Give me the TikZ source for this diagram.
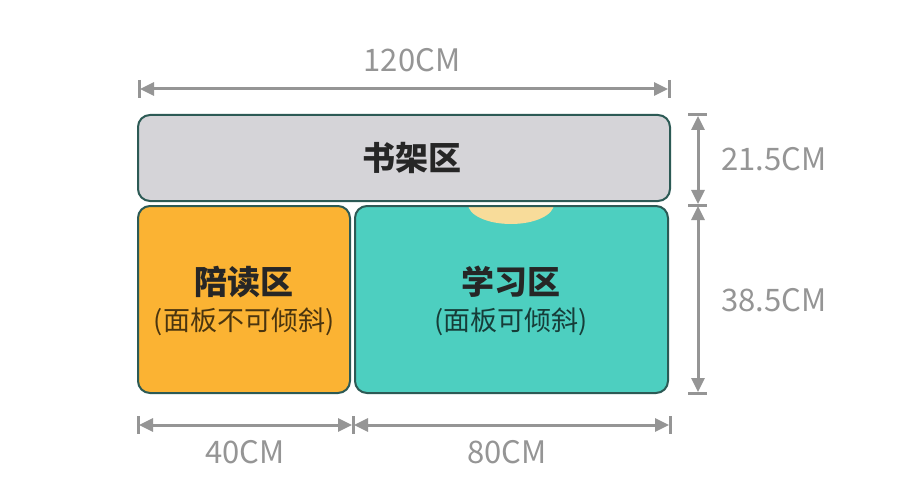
\documentclass[tikz,border=0pt]{standalone}
\usepackage{fontspec}
\setmainfont{Noto Sans CJK SC}
\usetikzlibrary{arrows.meta}
\definecolor{shelf}{HTML}{D5D4D8}
\definecolor{orangez}{HTML}{FBB333}
\definecolor{tealz}{HTML}{4DCFC0}
\definecolor{yel}{HTML}{F8DC9A}
\definecolor{edge}{HTML}{2C5A55}
\definecolor{dimc}{HTML}{959595}
\tikzset{
  zone/.style={draw=edge, line width=2pt, rounded corners=12pt},
  dimline/.style={draw=dimc, line width=3pt, {Triangle[length=14pt,width=13pt]}-{Triangle[length=14pt,width=13pt]}, shorten <=1pt, shorten >=1pt},
  tickl/.style={draw=dimc, line width=3pt},
  dimtxt/.style={text=dimc, font=\fontsize{31}{34}\selectfont, inner sep=0pt},
  title/.style={text=black!85, font=\bfseries\fontsize{33}{36}\selectfont, inner sep=0pt},
  sub/.style={text=black, opacity=0.7, font=\fontsize{27}{30}\selectfont, inner sep=0pt},
}
\begin{document}
\begin{tikzpicture}[x=1pt,y=-1pt]
\useasboundingbox[fill=white] (0,0) rectangle (900,500);
% zones
\path[zone, fill=shelf] (138,115) rectangle (670,201);
\path[zone, fill=orangez] (138,206) rectangle (350,393);
\begin{scope}
  \clip[rounded corners=12pt] (355,206) rectangle (668,393);
  \fill[tealz] (355,206) rectangle (668,393);
  \fill[yel] (511,204) ellipse [x radius=43pt, y radius=20pt];
\end{scope}
\path[zone] (355,206) rectangle (668,393);
% labels
\node[title] (shelf) at (412,158) {书架区};
\node[title] (read) at (244,282) {陪读区};
\node[sub] (readsub) at (244,322) {(面板不可倾斜)};
\node[title] (study) at (511,282) {学习区};
\node[sub] (studysub) at (511,322) {(面板可倾斜)};
% top dimension
\coordinate (tl) at (139,89);
\coordinate (tr) at (669,89);
\draw[tickl] (139,80) -- (139,98);
\draw[tickl] (669,80) -- (669,98);
\draw[dimline] (tl) -- (tr);
\node[dimtxt] (w120) at (412,60) {120CM};
% right dimensions
\coordinate (r1) at (698,115);
\coordinate (r2) at (698,205);
\coordinate (r3) at (698,393);
\draw[tickl] (688,115) -- (707,115);
\draw[tickl] (688,205) -- (707,205);
\draw[tickl] (688,393) -- (707,393);
\draw[dimline] (r1) -- (r2);
\draw[dimline] (r2) -- (r3);
\node[dimtxt, anchor=west] (h215) at (721,159) {21.5CM};
\node[dimtxt, anchor=west] (h385) at (721,300) {38.5CM};
% bottom dimensions
\coordinate (b1) at (138,425);
\coordinate (b2) at (353,425);
\coordinate (b3) at (670,425);
\draw[tickl] (138,416) -- (138,434);
\draw[tickl] (353,416) -- (353,434);
\draw[tickl] (670,416) -- (670,434);
\draw[dimline] (b1) -- (b2);
\draw[dimline] (b2) -- (b3);
\node[dimtxt] (w40) at (245,452) {40CM};
\node[dimtxt] (w80) at (507,452) {80CM};
\end{tikzpicture}
\end{document}
